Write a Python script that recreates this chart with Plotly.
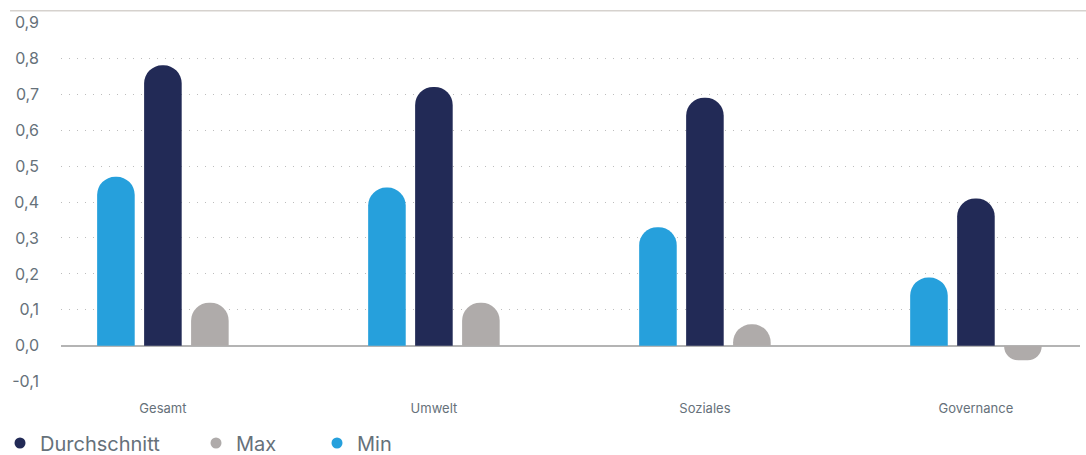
import plotly.graph_objects as go

categories = ["Gesamt", "Umwelt", "Soziales", "Governance"]
min_values = [0.47, 0.44, 0.33, 0.19]
avg_values = [0.78, 0.72, 0.69, 0.41]
max_values = [0.12, 0.12, 0.06, -0.04]

tick_vals = [-0.1, 0.0, 0.1, 0.2, 0.3, 0.4, 0.5, 0.6, 0.7, 0.8, 0.9]
tick_text = [f"{v:.1f}".replace(".", ",") for v in tick_vals]

NAVY = "#222a56"
BLUE = "#26a0dc"
GREY = "#afabaa"
TEXT = "#66717a"
FONT = "Inter, Roboto, sans-serif"
W, H = 1086, 455

fig = go.Figure()

# Bars drawn in group order: Min, Durchschnitt, Max
for name, vals, color in [("Min", min_values, BLUE),
                          ("Durchschnitt", avg_values, NAVY),
                          ("Max", max_values, GREY)]:
    fig.add_trace(go.Bar(x=categories, y=vals, name=name, marker_color=color,
                         marker_line_width=0, showlegend=False, hoverinfo="x+y+name"))

# Round legend markers, each in its own legend box along the bottom
legend_items = [("Durchschnitt", NAVY, "legend", 0),
                ("Max", GREY, "legend2", 196),
                ("Min", BLUE, "legend3", 317)]
legend_layout = {}
for name, color, leg, left_px in legend_items:
    fig.add_trace(go.Scatter(x=[None], y=[None], mode="markers", name=name,
                             legend=leg,
                             marker=dict(symbol="circle", size=11, color=color)))
    legend_layout[leg] = dict(orientation="h", xref="container", yref="container",
                              x=left_px / W, y=1 - 443 / H,
                              xanchor="left", yanchor="middle",
                              font=dict(size=20, color=TEXT), itemclick=False,
                              bgcolor="rgba(0,0,0,0)", borderwidth=0)

fig.update_layout(
    width=W, height=H,
    margin=dict(l=61, r=6, t=22, b=73),
    paper_bgcolor="white", plot_bgcolor="white",
    font=dict(family=FONT, color=TEXT),
    barmode="group", bargap=0.48, bargroupgap=0.2,
    barcornerradius="50%",
    xaxis=dict(type="category", range=[-0.376, 3.384], showgrid=False,
               showline=False, ticks="", tickfont=dict(size=13, color=TEXT),
               ticklabelstandoff=17),
    yaxis=dict(range=[-0.1005, 0.9005], tickvals=tick_vals, ticktext=tick_text,
               showgrid=True, gridcolor="#bdbdbd", griddash="1px,7px", gridwidth=1,
               zeroline=True, zerolinecolor="#b4b4b4", zerolinewidth=1.5,
               showline=False, ticks="", ticklabelstandoff=21,
               tickfont=dict(size=16, color=TEXT)),
    showlegend=True,
    **legend_layout,
)

# Thin rule along the top of the chart
fig.add_shape(type="line", xref="paper", yref="paper",
              x0=-0.05, x1=1.01, y0=1.031, y1=1.031,
              line=dict(color="#d6d2ce", width=1.5))

fig.write_html("out.html")
